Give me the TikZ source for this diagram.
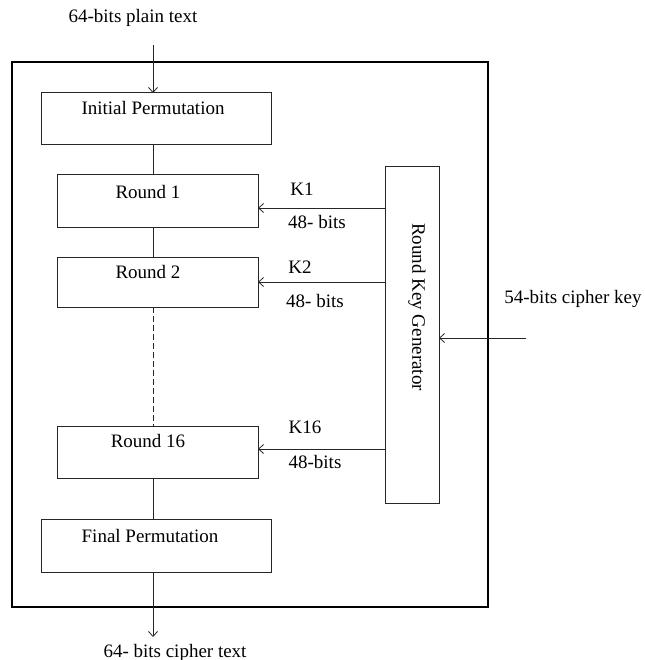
\documentclass[tikz,border=0pt]{standalone}
\usepackage{fontspec}
\setmainfont{Liberation Serif}
\usetikzlibrary{arrows.meta}
\begin{document}
\begin{tikzpicture}[x=1pt,y=-1pt,
  box/.style={draw=black!85, line width=1pt, inner sep=0pt, outer sep=0pt, rectangle},
  frame/.style={draw=black, line width=1.8pt, inner sep=0pt, outer sep=0pt, rectangle},
  txt/.style={inner sep=0pt, anchor=base, font=\fontsize{19}{22}\selectfont},
  conn/.style={draw=black!85, line width=1pt},
  arr/.style={conn, -{Straight Barb[length=5pt,width=9pt,line width=0.8pt]}}]
\useasboundingbox (0,0) rectangle (644,660);
% outer frame
\node[frame, minimum width=476, minimum height=545] (outer) at (250,334.5) {};
% boxes
\node[box, minimum width=230, minimum height=52] (ip) at (156,119) {};
\node[box, minimum width=201, minimum height=52] (r1) at (157.5,201) {};
\node[box, minimum width=201, minimum height=50] (r2) at (157.5,282) {};
\node[box, minimum width=201, minimum height=52] (r16) at (157.5,452) {};
\node[box, minimum width=230, minimum height=53] (fp) at (156,545.5) {};
\node[box, minimum width=54, minimum height=336] (rkg) at (412,335) {};
% box texts
\node[txt] (tip) at (153,115) {Initial Permutation};
\node[txt] (tr1) at (148,198) {Round 1};
\node[txt] (tr2) at (148,278) {Round 2};
\node[txt] (tr16) at (148,447) {Round 16};
\node[txt] (tfp) at (150,542) {Final Permutation};
\node[txt, rotate=-90, anchor=center] (trkg) at (417,307) {Round Key Generator};
% outside labels
\node[txt] (tin) at (133,23) {64-bits plain text};
\node[txt] (tout) at (175,657) {64- bits cipher text};
\node[txt] (tkey) at (573,303) {54-bits cipher key};
% key labels
\node[txt] (lk1) at (302,196) {K1};
\node[txt] (lb1) at (317,228) {48- bits};
\node[txt] (lk2) at (300,273) {K2};
\node[txt] (lb2) at (315,307) {48- bits};
\node[txt] (lk16) at (305,433) {K16};
\node[txt] (lb16) at (315,468) {48-bits};
% coordinates
\coordinate (top) at (153,45);
\coordinate (bot) at (153,637);
\coordinate (k1) at (0,208);
\coordinate (k2) at (0,282);
\coordinate (k16) at (0,449);
\coordinate (ck) at (526,338);
% main flow
\draw[arr] (top) -- (top |- ip.north);
\draw[conn] (ip.south -| top) -- (r1.north -| top);
\draw[conn] (r1.south -| top) -- (r2.north -| top);
\draw[conn, dash pattern=on 6pt off 3pt] (r2.south -| top) -- (r16.north -| top);
\draw[conn] (r16.south -| top) -- (fp.north -| top);
\draw[arr] (fp.south -| top) -- (bot);
% keys
\draw[arr] (rkg.west |- k1) -- (r1.east |- k1);
\draw[arr] (rkg.west |- k2) -- (r2.east |- k2);
\draw[arr] (rkg.west |- k16) -- (r16.east |- k16);
\draw[arr] (ck) -- (ck -| rkg.east);
\end{tikzpicture}
\end{document}
